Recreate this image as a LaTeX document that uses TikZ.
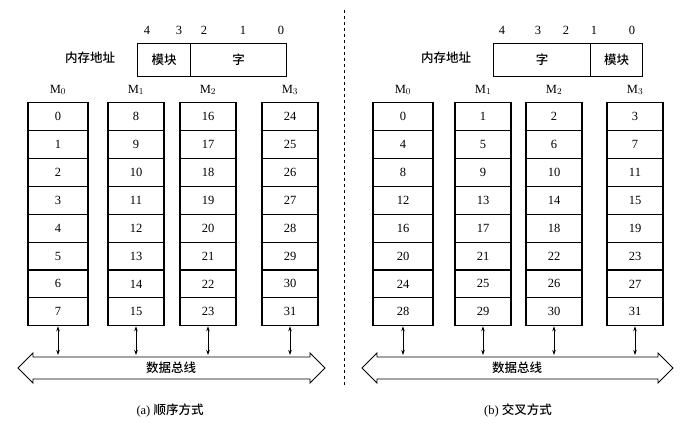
\documentclass[tikz,border=0pt]{standalone}
\usepackage{fontspec}
\setmainfont{Liberation Serif}
\newfontfamily\cjk{Noto Sans CJK SC Medium}
\usetikzlibrary{arrows.meta}
\begin{document}
\begin{tikzpicture}[x=1pt,y=-1pt,font=\fontsize{12.5}{13}\selectfont,
  cell/.style={draw,line width=1.1pt,minimum height=27.9pt,inner sep=0pt,anchor=north},
  abox/.style={draw,line width=1.1pt,minimum height=33pt,inner sep=0pt,anchor=north west},
  link/.style={{Stealth[length=5pt,width=3.5pt]}-{Stealth[length=5pt,width=3.5pt]},line width=0.8pt}]
\useasboundingbox (0,0) rectangle (688,425);
\draw[dashed,line width=0.8pt] (344,10) -- (344,385);
% ---------- panel (a)
\foreach \b/\x in {4/147,3/179,2/204,1/243,0/281}{\node at (\x,30) {\b};}
\node (la) at (90,58) {\cjk 内存地址};
\node[abox,minimum width=53pt] (amk) at (137,43) {\cjk 模块};
\node[abox,minimum width=96pt] (azi) at (190,43) {\cjk 字};
\foreach \c/\xa/\w in {0/28/60,1/108/56,2/180/56,3/262/56}{
  \node at (\xa+\w/2,90) {M$_{\c}$};
  \foreach \r in {0,...,7}{
    \pgfmathtruncatemacro{\v}{\c*8+\r}
    \node[cell,minimum width=\w pt] (a\c r\r) at (\xa+\w/2,102+27.9*\r) {\v};
  }
  \coordinate (ab\c) at (\xa+\w/2,355);
  \draw[link] (a\c r7.south) -- (ab\c);
}
\draw[line width=0.9pt] (18,368) -- (33,353) -- (33,357) -- (310,357) -- (310,353) -- (325,368) -- (310,383) -- (310,379) -- (33,379) -- (33,383) -- cycle;
\node (abus) at (171,368) {\cjk 数据总线};
\node (acap) at (170,410) {(a) {\cjk 顺序方式}};
% ---------- panel (b)
\foreach \b/\x in {4/502,3/538,2/566,1/594,0/632}{\node at (\x,30) {\b};}
\node (lb) at (446,58) {\cjk 内存地址};
\node[abox,minimum width=97pt] (bzi) at (493,43) {\cjk 字};
\node[abox,minimum width=52pt] (bmk) at (590,43) {\cjk 模块};
\foreach \c/\xa/\w in {0/373/60,1/455/56,2/526/56,3/607/56}{
  \node at (\xa+\w/2,90) {M$_{\c}$};
  \foreach \r in {0,...,7}{
    \pgfmathtruncatemacro{\v}{\c+4*\r}
    \node[cell,minimum width=\w pt] (b\c r\r) at (\xa+\w/2,102+27.9*\r) {\v};
  }
  \coordinate (bb\c) at (\xa+\w/2,355);
  \draw[link] (b\c r7.south) -- (bb\c);
}
\draw[line width=0.9pt] (362,368) -- (377,353) -- (377,357) -- (658,357) -- (658,353) -- (673,368) -- (658,383) -- (658,379) -- (377,379) -- (377,383) -- cycle;
\node (bbus) at (517,368) {\cjk 数据总线};
\node (bcap) at (518,410) {(b) {\cjk 交叉方式}};
\end{tikzpicture}
\end{document}
